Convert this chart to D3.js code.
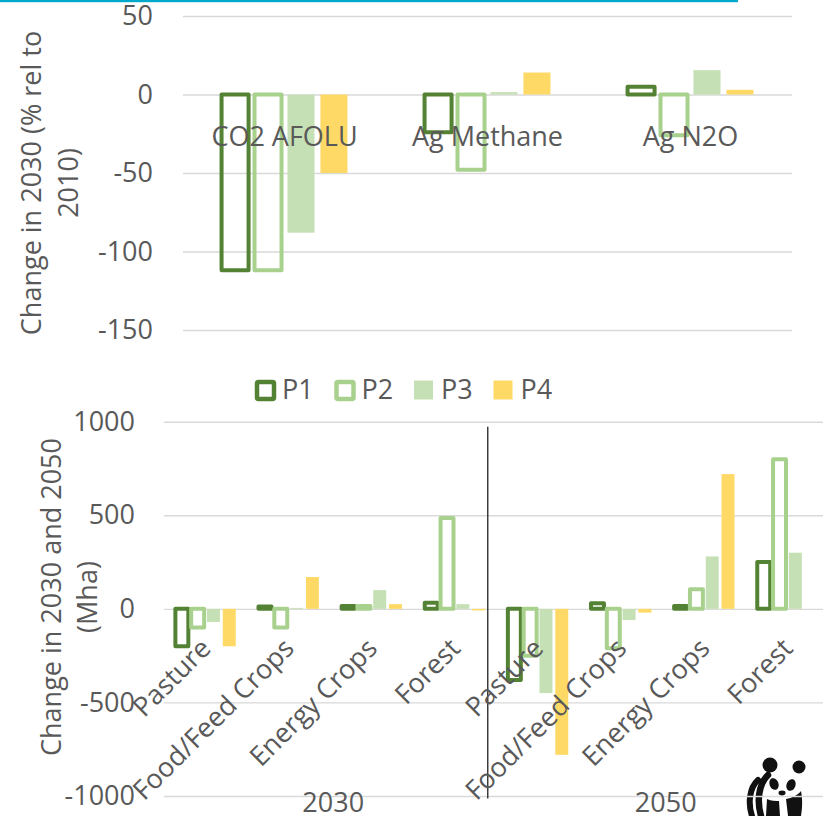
<!DOCTYPE html>
<html><head><meta charset="utf-8">
<script src="https://cdn.jsdelivr.net/npm/d3@7"></script>
<style>
html,body{margin:0;padding:0;background:#fff;}
svg{display:block;font-family:"Open Sans",sans-serif;}
</style></head><body>
<svg id="chart" width="823" height="816"></svg>
<script>
// ---- Emissions: change in 2030 relative to 2010 (%)
const gasCategories = ["CO2 AFOLU", "Ag Methane", "Ag N2O"];
const seriesNames = ["P1", "P2", "P3", "P4"];
const gasP1 = [-112, -24, 5];
const gasP2 = [-112, -48, -26];
const gasP3 = [-88, 1.5, 15.5];
const gasP4 = [-50, 14, 3];
const gasTicks = [50, 0, -50, -100, -150];

// ---- Land use: change in 2030 and 2050 (Mha)
const landYears = ["2030", "2050"];
const landTypes = ["Pasture", "Food/Feed Crops", "Energy Crops", "Forest"];
const landP1 = [-200, 12, 15, 32, -380, 30, 15, 250];
const landP2 = [-100, -100, 15, 485, -250, -210, 105, 800];
const landP3 = [-70, 5, 100, 25, -450, -60, 280, 300];
const landP4 = [-200, 170, 25, -8, -780, -20, 720, 0];
const landTicks = [1000, 500, 0, -500, -1000];

// Series appearance: P1/P2 are outlined, P3/P4 are solid
const seriesStyle = {
  P1: {outline: true, color: "#548235"},
  P2: {outline: true, color: "#a9d18e"},
  P3: {outline: false, color: "#c5e0b4"},
  P4: {outline: false, color: "#ffd966"}
};

const textColor = "#595959";
const gridColor = "#d9d9d9";
const fontSize = 27;
const plainNumber = d => String(d);   // keeps an ASCII hyphen for negatives

const svg = d3.select("#chart");

// accent rule along the top edge
svg.append("rect").attr("x", 0).attr("y", 0).attr("width", 738).attr("height", 2.2).attr("fill", "#00a8cb");

function drawBars(g, rows, x0, x1, y, strokeW) {
  const grp = g.selectAll("g.cat").data(rows).join("g").attr("class", "cat")
    .attr("transform", d => `translate(${x0(d.key)},0)`);
  grp.selectAll("rect").data(d => seriesNames.map(s => ({s, v: d[s]}))).join("rect")
    .attr("x", d => x1(d.s))
    .attr("width", x1.bandwidth())
    .attr("y", d => y(Math.max(0, d.v)))
    .attr("height", d => Math.abs(y(d.v) - y(0)))
    .attr("fill", d => seriesStyle[d.s].outline ? "none" : seriesStyle[d.s].color)
    .attr("stroke", d => seriesStyle[d.s].outline ? seriesStyle[d.s].color : "none")
    .attr("stroke-width", strokeW)
    .attr("stroke-linejoin", "round");
}

// ================= Top chart =================
{
  const y = d3.scaleLinear().domain([-150, 50]).range([330, 16]);
  const x0 = d3.scaleBand().domain(gasCategories).range([183, 792]);
  const x1 = d3.scaleBand().domain(seriesNames).range([0, x0.bandwidth()])
    .paddingInner(0.18).paddingOuter(1.17);
  const g = svg.append("g");

  const yAxis = d3.axisLeft(y).tickValues(gasTicks).tickSize(-(792 - 183)).tickPadding(30).tickFormat(plainNumber);
  g.append("g").attr("transform", "translate(183,0)").call(yAxis)
    .call(a => a.select(".domain").remove())
    .call(a => a.selectAll(".tick line").attr("stroke", gridColor).attr("stroke-width", 1.4))
    .call(a => a.selectAll(".tick text").attr("fill", textColor).attr("font-size", fontSize)
      .attr("font-family", "'Open Sans', sans-serif").attr("x", -30));

  const rows = gasCategories.map((c, i) => ({key: c, P1: gasP1[i], P2: gasP2[i], P3: gasP3[i], P4: gasP4[i]}));
  drawBars(g, rows, x0, x1, y, 4);

  g.selectAll("text.cat").data(gasCategories).join("text").attr("class", "cat")
    .attr("x", d => x0(d) + x0.bandwidth() / 2).attr("y", 146)
    .attr("text-anchor", "middle").attr("fill", textColor).attr("font-size", fontSize).text(d => d);

  const t = g.append("text").attr("transform", "translate(0,183) rotate(-90)")
    .attr("text-anchor", "middle").attr("fill", textColor).attr("font-size", fontSize);
  t.append("tspan").attr("x", 0).attr("y", 41).text("Change in 2030 (% rel to");
  t.append("tspan").attr("x", 0).attr("y", 78).text("2010)");
}

// ================= Legend =================
{
  const lg = svg.append("g").attr("transform", "translate(255,380)");
  const item = lg.selectAll("g").data(seriesNames).join("g")
    .attr("transform", (d, i) => `translate(${i * 79.5},0)`);
  item.append("rect")
    .attr("x", d => seriesStyle[d].outline ? 2 : 0).attr("y", d => seriesStyle[d].outline ? 2 : 0.5)
    .attr("width", d => seriesStyle[d].outline ? 17 : 19).attr("height", d => seriesStyle[d].outline ? 17 : 19)
    .attr("rx", d => seriesStyle[d].outline ? 1.5 : 0)
    .attr("fill", d => seriesStyle[d].outline ? "#fff" : seriesStyle[d].color)
    .attr("stroke", d => seriesStyle[d].outline ? seriesStyle[d].color : "none")
    .attr("stroke-width", 4.5);
  item.append("text").attr("x", 27).attr("y", 19).attr("fill", textColor).attr("font-size", fontSize).text(d => d);
}

// ================= Bottom chart =================
{
  const left = 164, right = 829;
  const y = d3.scaleLinear().domain([-1000, 1000]).range([796, 421.7]);
  const keys = d3.range(landYears.length * landTypes.length);
  const x0 = d3.scaleBand().domain(keys).range([left, right]);
  const x1 = d3.scaleBand().domain(seriesNames).range([0, x0.bandwidth()])
    .paddingInner(0.18).paddingOuter(0.72);
  const g = svg.append("g");

  // panda emblem (sits under the grid)
  const pd = g.append("g").attr("transform", "translate(744,760)").attr("fill", "#111");
  pd.append("circle").attr("cx", 26).attr("cy", 5).attr("r", 7.5);
  pd.append("circle").attr("cx", 55).attr("cy", 7).attr("r", 6.5);
  pd.append("path").attr("fill", "none").attr("stroke", "#111").attr("stroke-width", 6).attr("stroke-linecap", "round")
    .attr("d", "M14,20 C5,28 4,44 8,56");
  pd.append("path").attr("fill", "none").attr("stroke", "#111").attr("stroke-width", 6.5).attr("stroke-linecap", "round")
    .attr("d", "M24,15 C14,25 13,42 17,56");
  pd.append("ellipse").attr("cx", 30).attr("cy", 24).attr("rx", 4.5).attr("ry", 6).attr("transform", "rotate(-20,30,24)");
  pd.append("ellipse").attr("cx", 47).attr("cy", 25).attr("rx", 4.5).attr("ry", 6).attr("transform", "rotate(20,47,25)");
  pd.append("ellipse").attr("cx", 38).attr("cy", 33).attr("rx", 3.5).attr("ry", 2.4);
  pd.append("path").attr("d", "M23,39 C27,41 32,41 35,41 L36,56 L22,56 Z");
  pd.append("path").attr("d", "M42,39 C48,38 54,35 57,31 C59,41 58,50 57,56 L44,56 Z");

  const yAxis = d3.axisLeft(y).tickValues(landTicks).tickSize(-(right - left)).tickPadding(30).tickFormat(plainNumber);
  g.append("g").attr("transform", `translate(${left},0)`).call(yAxis)
    .call(a => a.select(".domain").remove())
    .call(a => a.selectAll(".tick line").attr("stroke", gridColor).attr("stroke-width", 1.4))
    .call(a => a.selectAll(".tick text").attr("fill", textColor).attr("font-size", fontSize)
      .attr("font-family", "'Open Sans', sans-serif").attr("x", -29));

  const rows = keys.map(i => ({key: i, P1: landP1[i], P2: landP2[i], P3: landP3[i], P4: landP4[i]}));
  drawBars(g, rows, x0, x1, y, 4);

  // separator between the two periods
  const sepX = x0(landTypes.length) - x0.step() * 0.105;
  g.append("line").attr("x1", sepX).attr("x2", sepX).attr("y1", 426.7).attr("y2", 798.5)
    .attr("stroke", "#222").attr("stroke-width", 1.3);

  // rotated category labels
  g.selectAll("text.cat").data(keys).join("text").attr("class", "cat")
    .attr("transform", d => `translate(${x0(d) + x0.bandwidth() / 2 + 7},650) rotate(-45)`)
    .attr("text-anchor", "end").attr("fill", textColor).attr("font-size", fontSize)
    .text(d => landTypes[d % landTypes.length]);

  // period labels
  g.selectAll("text.year").data(landYears).join("text").attr("class", "year")
    .attr("x", (d, j) => d3.mean(landTypes, (c, k) => x0(j * landTypes.length + k) + x0.bandwidth() / 2) + 3)
    .attr("y", 812).attr("text-anchor", "middle").attr("fill", textColor).attr("font-size", fontSize).text(d => d);

  const t = g.append("text").attr("transform", "translate(0,597) rotate(-90)")
    .attr("text-anchor", "middle").attr("fill", textColor).attr("font-size", fontSize);
  t.append("tspan").attr("x", 0).attr("y", 61).text("Change in 2030 and 2050");
  t.append("tspan").attr("x", 0).attr("y", 97).text("(Mha)");
}
</script>
</body></html>
